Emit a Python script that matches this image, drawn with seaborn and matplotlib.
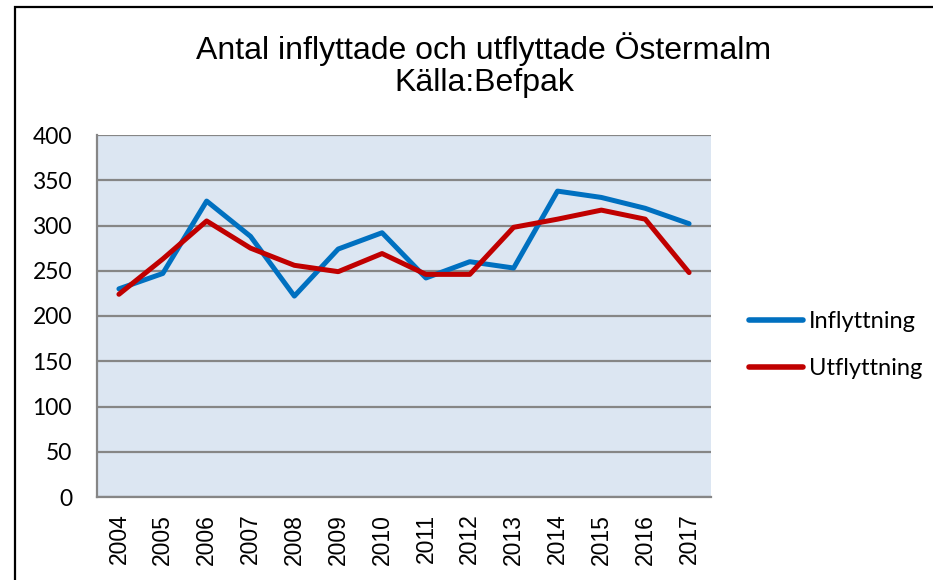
import numpy as np
import pandas as pd
import matplotlib
matplotlib.use("Agg")
import matplotlib.pyplot as plt
from matplotlib.patches import Rectangle
import seaborn as sns

# values
years = [str(y) for y in range(2004, 2018)]
inflyttning = [230, 247, 327, 288, 222, 274, 292, 242, 260, 253, 338, 331, 319, 302]
utflyttning = [224, 263, 305, 275, 256, 249, 269, 246, 246, 298, 307, 317, 307, 248]
y_ticks = list(range(0, 401, 50))

df = pd.DataFrame(
    {
        "year": years * 2,
        "value": inflyttning + utflyttning,
        "serie": ["Inflyttning"] * len(years) + ["Utflyttning"] * len(years),
    }
)

sns.set_style("white")
plt.rcParams["font.family"] = ["Liberation Sans", "DejaVu Sans"]
plt.rcParams["text.color"] = "black"
plt.rcParams["xtick.labelcolor"] = "black"
plt.rcParams["ytick.labelcolor"] = "black"

W, H = 933, 580
fig = plt.figure(figsize=(W / 100, H / 100), dpi=100)
fig.patch.set_facecolor("white")

# outer chart border
fig.patches.append(
    Rectangle((15 / W, -0.1), 1.2, 1.1 - 7 / H, transform=fig.transFigure,
              fill=False, edgecolor="black", linewidth=1.6)
)

left, right, top, bottom = 97, 711, 135, 497
ax = fig.add_axes([left / W, 1 - bottom / H, (right - left) / W, (bottom - top) / H])
ax.set_facecolor("#DCE6F2")

sns.lineplot(
    data=df, x="year", y="value", hue="serie",
    palette={"Inflyttning": "#0070C0", "Utflyttning": "#C00000"},
    linewidth=3.6, ax=ax, legend=False, sort=False,
)

ax.set_xlim(-0.5, len(years) - 0.5)
ax.set_ylim(0, 400)
ax.set_yticks(y_ticks)
ax.set_yticklabels([str(v) for v in y_ticks], fontsize=16.5, family="Lato")
ax.yaxis.grid(True, color="#868686", linewidth=1.6)
ax.set_axisbelow(True)
ax.tick_params(axis="y", length=8, width=1.6, color="#868686", pad=10)

ax.set_xticks(range(len(years)))
ax.set_xticklabels(years, rotation=90, fontsize=16.5)
ax.set_xticks(np.arange(-0.5, len(years), 1.0), minor=True)
ax.tick_params(axis="x", which="major", length=0, pad=12)
ax.tick_params(axis="x", which="minor", length=8, width=1.6, color="#868686")

for s in ["top", "right"]:
    ax.spines[s].set_visible(False)
for s in ["left", "bottom"]:
    ax.spines[s].set_color("#868686")
    ax.spines[s].set_linewidth(1.6)
ax.set_xlabel("")
ax.set_ylabel("")

# legend
handles = [
    plt.Line2D([], [], color="#0070C0", linewidth=4, solid_capstyle="round"),
    plt.Line2D([], [], color="#C00000", linewidth=4, solid_capstyle="round"),
]
fig.legend(
    handles, ["Inflyttning", "Utflyttning"],
    loc="center left", bbox_to_anchor=(749 / W, 1 - 345 / H),
    frameon=False, handlelength=2.3, handletextpad=0.25, labelspacing=1.1,
    borderpad=0, borderaxespad=0,
    prop={"family": "Lato", "size": 17},
)

fig.text(484 / W, 1 - 65 / H, "Antal inflyttade och utflyttade Östermalm\nKälla:Befpak",
         ha="center", va="center", fontsize=23, linespacing=1.1)

fig.savefig("out.png", dpi=100)
